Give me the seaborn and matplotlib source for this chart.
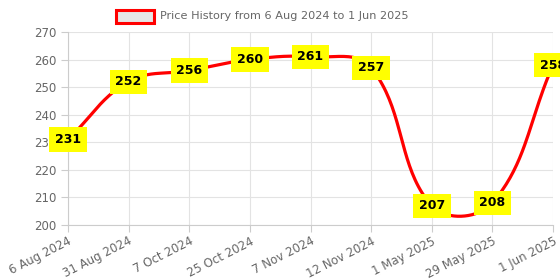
import numpy as np
import pandas as pd
import matplotlib
matplotlib.use("Agg")
import matplotlib.pyplot as plt
import seaborn as sns

# chart data
dates = ["6 Aug 2024", "31 Aug 2024", "7 Oct 2024", "25 Oct 2024", "7 Nov 2024",
         "12 Nov 2024", "1 May 2025", "29 May 2025", "1 Jun 2025"]
prices = [231, 252, 256, 260, 261, 257, 207, 208, 258]
legend_label = "Price History from 6 Aug 2024 to 1 Jun 2025"

sns.set_style("white")
plt.rcParams['font.family'] = ['DejaVu Sans']

fig = plt.figure(figsize=(5.6, 2.8), dpi=100)
ax = fig.add_axes([68 / 560, 1 - 225 / 280, 485 / 560, 193 / 280])
xs = np.arange(len(dates))
ax.set_xlim(0, len(dates) - 1)
ax.set_ylim(200, 270)


# smooth the line like a tension 0.4 spline, done in pixel space
def spline_path(x, y, t=0.4, n=40):
    pts = ax.transData.transform(np.column_stack([x, y]))
    m = len(pts)
    cps = []
    for i in range(m):
        prev = pts[max(i - 1, 0)]
        cur = pts[i]
        nxt = pts[min(i + 1, m - 1)]
        d01 = np.hypot(*(cur - prev))
        d12 = np.hypot(*(nxt - cur))
        tot = d01 + d12
        s01 = d01 / tot if tot else 0
        s12 = d12 / tot if tot else 0
        cps.append((cur - t * s01 * (nxt - prev), cur + t * s12 * (nxt - prev)))
    out = [pts[0]]
    u = np.linspace(0, 1, n)[1:, None]
    for i in range(m - 1):
        p0, p3 = pts[i], pts[i + 1]
        p1, p2 = cps[i][1], cps[i + 1][0]
        seg = ((1 - u) ** 3) * p0 + 3 * ((1 - u) ** 2) * u * p1 + 3 * (1 - u) * u ** 2 * p2 + u ** 3 * p3
        out.extend(seg)
    out = ax.transData.inverted().transform(np.array(out))
    return out[:, 0], out[:, 1]


sx, sy = spline_path(xs, prices)
smooth = pd.DataFrame({"x": sx, "y": sy})
sns.lineplot(data=smooth, x="x", y="y", ax=ax, color="red", linewidth=2.3,
             sort=False, estimator=None, zorder=3)

for x, p in zip(xs, prices):
    ax.text(x, p, str(p), ha="center", va="center", fontsize=9, fontweight="bold",
            color="black", zorder=5, clip_on=False,
            bbox=dict(boxstyle="square,pad=0.45", fc="yellow", ec="none"))

ax.set_xticks(xs)
ax.set_xticklabels(dates, rotation=27, ha="right", rotation_mode="anchor")
ax.set_yticks(range(200, 271, 10))
ax.tick_params(axis="both", colors="#cccccc", labelcolor="#666666", labelsize=8.5,
               length=5, width=0.8, direction="out", left=True, bottom=True)
ax.tick_params(axis="x", pad=2)
ax.grid(True, color="#e3e3e3", linewidth=0.8)
for side in ["top", "right"]:
    ax.spines[side].set_visible(False)
for side in ["left", "bottom"]:
    ax.spines[side].set_color("#cccccc")
    ax.spines[side].set_linewidth(0.8)
ax.set_xlabel("")
ax.set_ylabel("")

# legend at the top
fig.patches.append(plt.Rectangle((116 / 560, 1 - 22.5 / 280), 38 / 560, 13 / 280,
                                 transform=fig.transFigure, fc="#e6e6e6", ec="red", lw=2.2))
fig.text(160 / 560, 1 - 16 / 280, legend_label, ha="left", va="center",
         fontsize=8.1, color="#666666")

fig.savefig("out.png", dpi=100)
